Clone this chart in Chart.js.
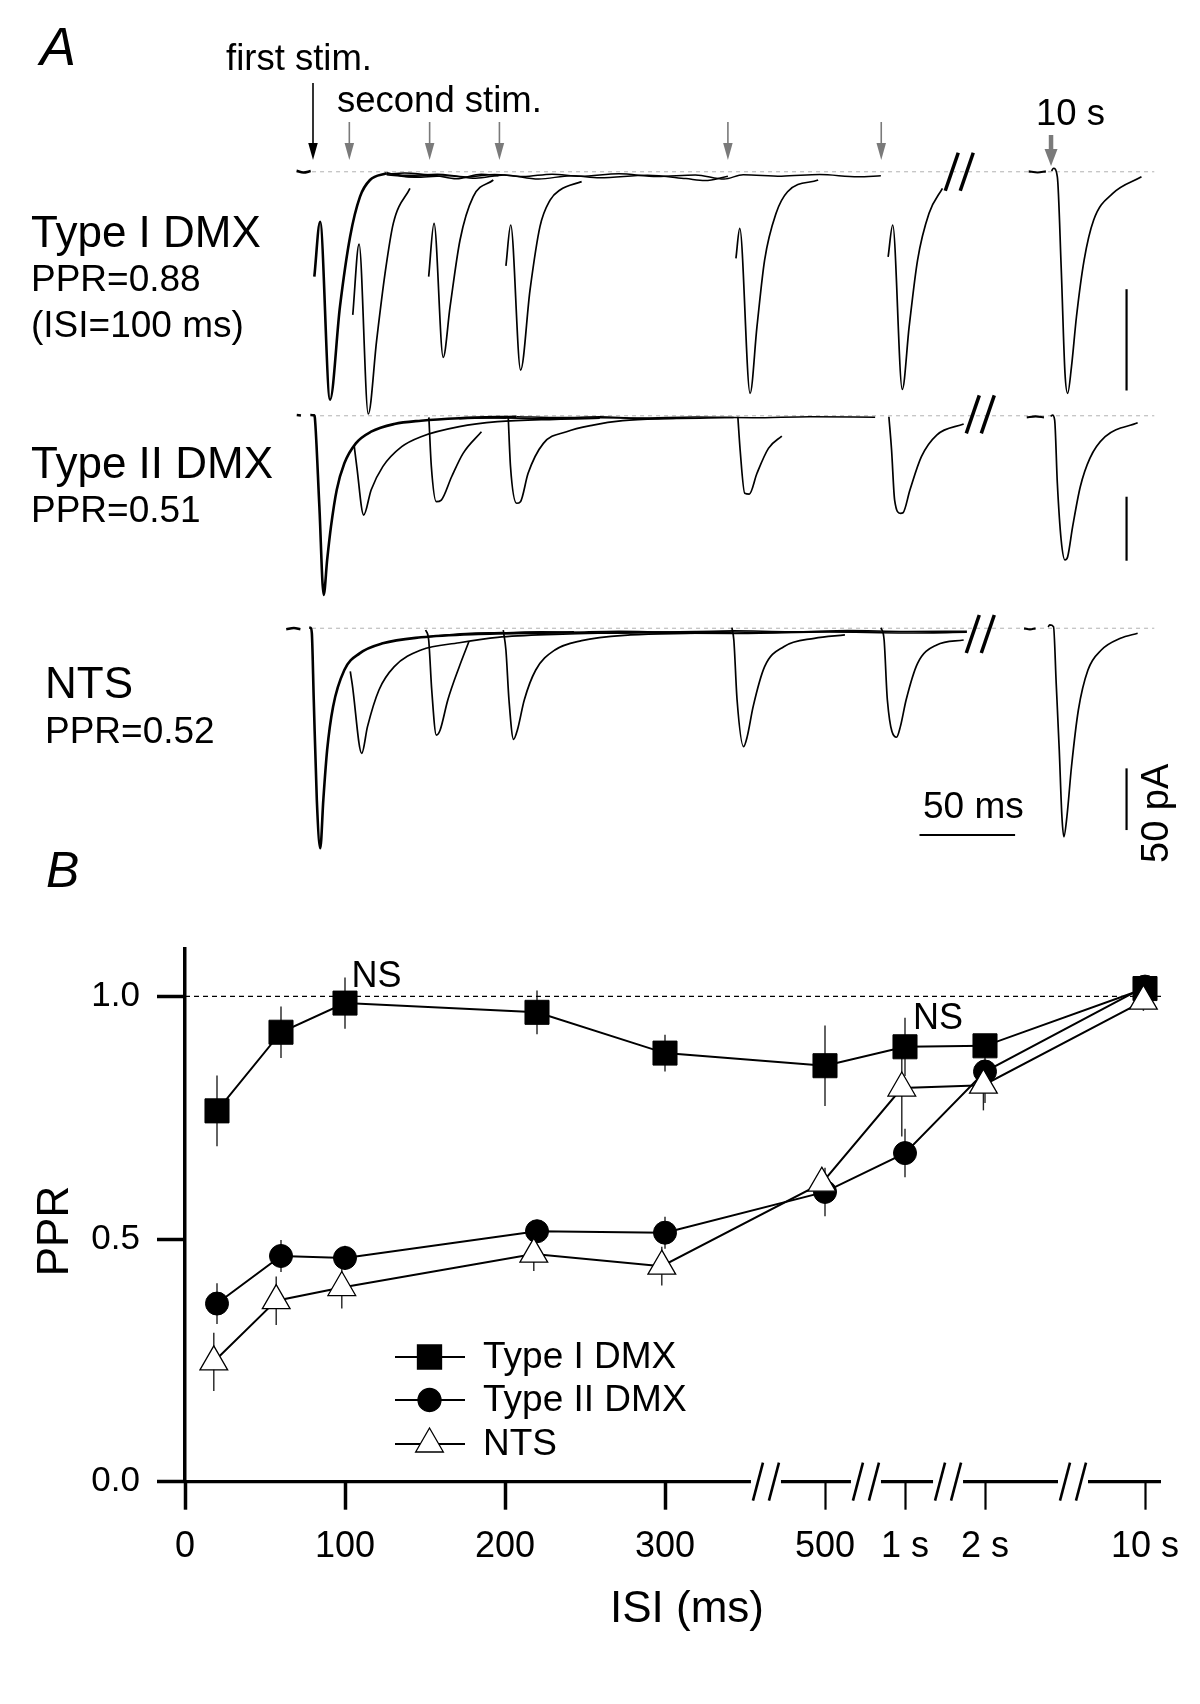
<!DOCTYPE html>
<html lang="en">
<head>
<meta charset="utf-8" />
<title>Paired-pulse ratio</title>
<style>
  html, body { margin: 0; padding: 0; background: #fff; }
  body { width: 1200px; height: 1704px; position: relative; overflow: hidden; }
  canvas { position: absolute; left: 0; }
  #tracesCanvas { top: 0; }
  #pprCanvas { top: 840px; }
</style>
</head>
<body>
<canvas id="tracesCanvas" width="1200" height="880"></canvas>
<canvas id="pprCanvas" width="1200" height="864"></canvas>
<script src="https://cdn.jsdelivr.net/npm/chart.js@4.4.1/dist/chart.umd.min.js"></script>
<script>
// ---------- panel B data ----------
// broken x axis: 0-300 ms linear, then 500 ms, 1 s, 2 s, 10 s
const isiTickPos = [0, 100, 200, 300, 400, 450, 500, 600];
const isiTickLabels = ['0', '100', '200', '300', '500', '1 s', '2 s', '10 s'];
const isiPos = [20, 60, 100, 220, 300, 400, 450, 500, 600];
const isiPosNts = [18, 57, 98, 218, 298, 398, 448, 499, 599];
const pprType1 = [0.764, 0.926, 0.986, 0.967, 0.883, 0.857, 0.896, 0.898, 1.016];
const semType1 = [0.073, 0.053, 0.053, 0.045, 0.038, 0.083, 0.06, 0.02, 0.015];
const pprType2 = [0.367, 0.465, 0.461, 0.516, 0.513, 0.597, 0.677, 0.845, 1.02];
const semType2 = [0.042, 0.033, 0.025, 0.02, 0.033, 0.05, 0.05, 0.065, 0.015];
const pprNts = [0.247, 0.373, 0.400, 0.469, 0.444, 0.615, 0.811, 0.817, 0.99];
const semNts = [0.06, 0.05, 0.043, 0.035, 0.04, 0.03, 0.1, 0.052, 0.02];
const yTicks = [0, 0.5, 1.0];
const axisBreaksB = [363.1, 425.6, 476.9, 555];

// ---------- panel A data (time in ms from first stim, current in pA) ----------
const stimSecond = [19, 61, 97.5, 217, 297.2];
const stimTenSec = 386;   // 10 s trace is drawn after the break

// Type I DMX
const dmx1Pre = [[-8.6, 0.4], [-5, -0.4], [-1.2, 0.3]];
const dmx1First = [[0.7, -51.8], [3.7, -24.7], [8.9, -112.5], [14.1, -66.6], [19.4, -32.1], [24.6, -12.3], [29.8, -4.1], [38.5, -0.8]];
const dmx1Base = [
  [[38.5, -0.8], [50, -1.8], [65, -1.2], [80, -2.6], [95, -1.4], [110, -2.4], [125, -1.2], [140, -2.2], [160, -1.0], [180, -2.4], [200, -1.6], [215, -3.6], [225, -1.5], [245, -2.2], [265, -1.4], [285, -2.5], [297, -2]],
  [[38.5, -1.5], [55, -2.8], [70, -2.0], [85, -3.2], [100, -1.6], [118, -3.6], [135, -2.0], [150, -3.0], [175, -1.8], [195, -3.4], [205, -4.4], [217, -2.2]],
  [[38.5, -0.5], [50, -2.5], [62, -1.8], [75, -3.5], [88, -1.2], [97, -2]],
  [[38.5, -1.2], [48, -0.6], [60, -1.5]]
];
const dmx1Second = [
  [[20.8, -70.7], [24.1, -35.7], [28.9, -119.6], [33.3, -83.1], [37.7, -50.1], [42.0, -25.5], [50.7, -8.2]],
  [[60.5, -51.8], [63.3, -25.5], [68.1, -91.6], [71.7, -66.6], [76.9, -33.7], [83.8, -12.3], [94.3, -4.1]],
  [[100.9, -46.5], [103.4, -26.3], [108.6, -97.9], [113.5, -58.4], [118.7, -27.1], [124.0, -14], [129.2, -9], [140.5, -4.9]],
  [[221.2, -42.8], [223.2, -28], [228.6, -109.4], [232.2, -76.5], [236.2, -43.6], [242.2, -20.5], [248.2, -9.9], [264.2, -4.1]],
  [[300.8, -42], [303.2, -26.3], [308.2, -107.4], [311.8, -76.5], [316.2, -43.6], [322.2, -20.5], [329.2, -8.2]]
];
const dmx1TenPre = [[374.3, 0.2], [379, -0.4], [383.3, 0.2]];
const dmx1Ten = [[386.3, 0.4], [387.3, 1.7], [389.3, -2.5], [391.3, -46.9], [393.3, -99.5], [394.7, -109.4], [396.7, -96.2], [399.3, -71.6], [403.3, -43.6], [408.3, -23.8], [418.3, -10.7], [433.3, -2.5]];

// Type II DMX
const dmx2Pre = [[-8.5, 0.6], [-6.3, 0.2]];
const dmx2First = [[-1.4, 0.6], [0.6, 0.3], [1.0, -2], [3.3, -70], [5.6, -140], [7.4, -112.7], [9.4, -86.7], [12.4, -58], [16.4, -37.2], [22.4, -21.6], [30.4, -12.5], [42.5, -6.5], [56.5, -3.9], [76.5, -2], [106.5, -0.8]];
const dmx2Base = [
  [[106.5, -0.8], [130, -1.5], [150, -0.9], [170, -1.8], [200, -1.0], [230, -1.6], [260, -0.8], [294, -1.2]],
  [[76.5, -2], [95, -1.6], [120, -2.4], [150, -1.6], [180, -2.2], [220, -1.4]],
  [[76.5, -2.4], [90, -1.4], [101, -1.8]]
];
const dmx2Second = [
  [[21.5, -23], [22.9, -39.8], [26.5, -77.6], [30.4, -58], [36.5, -39.8], [46.4, -24.2], [56.5, -16.4], [76.5, -8.6], [96.5, -4.7], [126.6, -2.8], [150, -2]],
  [[60.6, -1.3], [61.9, -39.8], [64.5, -67.2], [67.1, -65.9], [72.5, -47.7], [78.5, -29.4], [88.1, -12.5]],
  [[102.1, -0.8], [103.3, -39.8], [106.5, -68.4], [108.5, -67.2], [112.5, -45], [120.5, -21.6], [132.6, -12.5], [146.5, -7.3], [162, -3.9], [190, -2]],
  [[222.2, -0.8], [223.4, -26.8], [225.8, -60.6], [228.2, -61.2], [232.2, -45], [238.2, -25.5], [245.2, -15.9]],
  [[301.2, -0.8], [302.6, -26.8], [304.2, -65.9], [307.2, -76.3], [308.6, -75.8], [312.2, -58], [318.2, -32], [326.2, -15.1], [340.3, -6.5]]
];
const dmx2TenPre = [[373.3, -1.3], [378, -0.6], [382.3, -1.3]];
const dmx2Ten = [[385.8, -0.5], [386.8, 0.5], [387.9, -3.4], [389.3, -52.8], [391.3, -97.1], [393.3, -112.7], [394.7, -110.2], [397.3, -86.7], [401.3, -55.5], [406.3, -33.3], [414.3, -16.4], [431.3, -5.5]];

// NTS
const ntsPre = [[-14, -0.8], [-10, 0.2], [-6.6, -0.8]];
const ntsFirst = [[-2, 0.5], [-1.2, 0.5], [-0.6, -4], [0.4, -58.1], [2.0, -139.1], [3.8, -178.3], [5.4, -139.1], [7.4, -98.6], [10.5, -63.5], [16.4, -33.8], [24.4, -20.3], [36.5, -12.2], [56.5, -7.3], [86.5, -4.6], [136.5, -3.2]];
const ntsBase = [
  [[136.5, -3.2], [160, -2.4], [190, -3.2], [220, -2.0], [250, -2.8], [280, -1.8], [310, -2.6], [342, -2.4]],
  [[100, -4.2], [130, -3.4], [160, -3.8], [200, -2.6], [240, -3.4], [270, -2.6], [297, -3]],
  [[86.5, -4.6], [120, -2.8], [150, -4], [180, -3], [219, -3.6]],
  [[56.5, -7.3], [80, -4.2], [99, -3.5]]
];
const ntsSecond = [
  [[19.5, -35], [20.5, -45], [25.5, -101.3], [28.5, -79.7], [34.5, -50], [42.5, -31.1], [56.5, -17.6], [76.5, -11.7], [96.5, -7.3], [126.6, -4.9], [170, -3.6], [220, -4.2], [270, -3], [310, -3.8], [342, -3.2]],
  [[58.9, -1.4], [60.5, -9.5], [62.1, -50], [64.5, -86.5], [66.5, -82.4], [70.5, -58.1], [76.5, -31.1], [81.5, -10.9]],
  [[99.5, -1.4], [100.9, -17.6], [102.5, -58.1], [104.9, -90], [106.9, -82.4], [110.5, -58.1], [116.5, -33.8], [126.5, -17.6], [140.5, -10], [166, -5.4], [200, -4]],
  [[219.1, 0.5], [220.1, -9.5], [221.8, -58.1], [225.2, -95.9], [227.1, -87.8], [230.2, -63.5], [236.2, -31.1], [246.2, -14.9], [262.2, -8.1], [278.2, -5.4]],
  [[297.1, 0.5], [298.7, -9.5], [300.4, -58.1], [305.2, -88.3], [307.2, -79.7], [310.2, -58.1], [316.2, -28.4], [326.2, -13.5], [340.3, -9.5]]
];
const ntsTenPre = [[371.9, 0], [375, -0.8], [377.9, 0]];
const ntsTen = [[384.5, 1], [385.3, 2.7], [387.3, 1.3], [388.7, -44.6], [390.3, -98.6], [391.7, -152.7], [392.7, -168.9], [394.3, -152.7], [396.7, -112.2], [400.3, -66.2], [405.3, -33.8], [412.3, -17.6], [422.3, -8.1], [431.3, -4]];

// scale bars (50 ms, 50 pA) and axis breaks in data units
const scaleBarT = 425.5;
const scaleBarTop = [-58, -63.3, -113.5];
const timeBar = [317.2, 367.2];
const timeBarI = -167.5;
const breakA = [[338, 0], [349, 1], [349, -4.6]];

// ---------- layout ----------
const FONT = '"Liberation Sans", Arial, sans-serif';
Chart.defaults.font.family = FONT;
Chart.defaults.color = '#000';

const H_A = 880;
const rowBase = [171.7, 415.7, 628.3];   // baseline pixel of each row
const rowGain = [2.026, 1.28, 1.234];    // pixels per pA in each row
const stim0Px = 313, msPx = 1.912;
const rowAxes = ['y1', 'y2', 'y3'];

function xy(arr) { return arr.map(p => ({ x: p[0], y: p[1] })); }

function traceSet(points, axis, width) {
  return {
    data: xy(points), yAxisID: axis, borderColor: '#000', borderWidth: width,
    pointRadius: 0, cubicInterpolationMode: 'monotone', fill: false
  };
}

function line(ctx, x1, y1, x2, y2) {
  ctx.beginPath(); ctx.moveTo(x1, y1); ctx.lineTo(x2, y2); ctx.stroke();
}

function drawArrow(ctx, x, yTop, yTip, color, shaftW, headW, headH) {
  ctx.strokeStyle = color; ctx.fillStyle = color; ctx.lineWidth = shaftW;
  line(ctx, x, yTop, x, yTip - headH + 1);
  ctx.beginPath();
  ctx.moveTo(x - headW / 2, yTip - headH);
  ctx.lineTo(x + headW / 2, yTip - headH);
  ctx.lineTo(x, yTip);
  ctx.closePath(); ctx.fill();
}

function drawBreak(ctx, cx, cy, h, dx, gap, lw) {
  ctx.strokeStyle = '#000'; ctx.lineWidth = lw; ctx.lineCap = 'butt';
  [-1, 1].forEach(k => {
    const ox = cx + k * gap / 2;
    line(ctx, ox - dx / 2, cy + h / 2, ox + dx / 2, cy - h / 2);
  });
}

function text(ctx, str, x, y, size, style, align) {
  ctx.font = (style || '') + ' ' + size + 'px ' + FONT;
  ctx.textAlign = align || 'left';
  ctx.textBaseline = 'alphabetic';
  ctx.fillStyle = '#000';
  ctx.fillText(str, x, y);
}

// ---------- panel A ----------
const rowsA = [
  { pre: dmx1Pre, first: dmx1First, base: dmx1Base, second: dmx1Second, tenPre: dmx1TenPre, ten: dmx1Ten },
  { pre: dmx2Pre, first: dmx2First, base: dmx2Base, second: dmx2Second, tenPre: dmx2TenPre, ten: dmx2Ten },
  { pre: ntsPre, first: ntsFirst, base: ntsBase, second: ntsSecond, tenPre: ntsTenPre, ten: ntsTen }
];

const datasetsA = [];
rowsA.forEach((r, i) => {
  const ax = rowAxes[i];
  datasetsA.push({
    data: xy([[-0.5, 0], [440, 0]]), yAxisID: ax, borderColor: '#c4c4c4',
    borderWidth: 1.3, borderDash: [4, 4], pointRadius: 0, order: 5
  });
  datasetsA.push(traceSet(r.pre, ax, 2.6));
  datasetsA.push(traceSet(r.first, ax, 2.6));
  r.base.forEach(b => datasetsA.push(traceSet(b, ax, 1.5)));
  r.second.forEach(s => datasetsA.push(traceSet(s, ax, 1.7)));
  datasetsA.push(traceSet(r.tenPre, ax, 2.2));
  datasetsA.push(traceSet(r.ten, ax, 1.7));
});

const yScalesA = {};
rowAxes.forEach((id, i) => {
  yScalesA[id] = {
    type: 'linear', display: false,
    min: (rowBase[i] - H_A) / rowGain[i],
    max: rowBase[i] / rowGain[i]
  };
});

const tracesDecor = {
  id: 'tracesDecor',
  afterDatasetsDraw(chart) {
    const ctx = chart.ctx;
    const xs = chart.scales.x;
    const ys = rowAxes.map(id => chart.scales[id]);
    ctx.save();

    // stimulus arrows
    drawArrow(ctx, xs.getPixelForValue(0), 83, 160, '#000', 1.6, 9.5, 17);
    stimSecond.forEach(t => drawArrow(ctx, xs.getPixelForValue(t), 122, 160, '#7a7a7a', 1.6, 9.5, 17));
    drawArrow(ctx, xs.getPixelForValue(stimTenSec), 135, 166, '#7a7a7a', 4.5, 13, 17);

    // breaks before the 10 s traces
    breakA.forEach((b, i) => drawBreak(ctx, xs.getPixelForValue(b[0]), ys[i].getPixelForValue(b[1]), 38, 13, 15, 3.5));

    // scale bars
    ctx.strokeStyle = '#000'; ctx.lineWidth = 2.2;
    const bx = xs.getPixelForValue(scaleBarT);
    ys.forEach((s, i) => line(ctx, bx, s.getPixelForValue(scaleBarTop[i]), bx, s.getPixelForValue(scaleBarTop[i] - 50)));
    const ty = ys[2].getPixelForValue(timeBarI);
    line(ctx, xs.getPixelForValue(timeBar[0]), ty, xs.getPixelForValue(timeBar[1]), ty);

    // labels
    text(ctx, 'A', 40, 65, 54, 'italic');
    text(ctx, 'first stim.', 226, 70, 36.5);
    text(ctx, 'second stim.', 337, 112, 36.5);
    text(ctx, '10 s', 1036, 125, 36.5);
    text(ctx, 'Type I DMX', 31, 247, 44);
    text(ctx, 'PPR=0.88', 31, 291, 37);
    text(ctx, '(ISI=100 ms)', 31, 337, 37);
    text(ctx, 'Type II DMX', 31, 478, 44);
    text(ctx, 'PPR=0.51', 31, 522, 37);
    text(ctx, 'NTS', 45, 698, 44);
    text(ctx, 'PPR=0.52', 45, 743, 37);
    text(ctx, '50 ms', 923, 818, 37);
    ctx.save();
    ctx.translate(1168, 863);
    ctx.rotate(-Math.PI / 2);
    text(ctx, '50 pA', 0, 0, 38);
    ctx.restore();

    ctx.restore();
  }
};

new Chart(document.getElementById('tracesCanvas'), {
  type: 'line',
  data: { datasets: datasetsA },
  options: {
    responsive: false,
    animation: false,
    events: [],
    layout: { padding: 0 },
    plugins: { legend: { display: false }, tooltip: { enabled: false } },
    scales: Object.assign({
      x: { type: 'linear', display: false, min: -stim0Px / msPx, max: (1200 - stim0Px) / msPx }
    }, yScalesA)
  },
  plugins: [tracesDecor]
});

// ---------- panel B ----------
const topB = 840;

function drawMarker(ctx, style, x, y, r, fill) {
  ctx.beginPath();
  if (style === 'rect') {
    const s = Math.SQRT1_2 * r;
    ctx.rect(x - s, y - s, 2 * s, 2 * s);
  } else if (style === 'circle') {
    ctx.arc(x, y, r, 0, Math.PI * 2);
  } else {
    for (let k = 0; k < 3; k++) {
      const a = k * 2 * Math.PI / 3;
      const px = x + Math.sin(a) * r, py = y - Math.cos(a) * r;
      if (k === 0) ctx.moveTo(px, py); else ctx.lineTo(px, py);
    }
    ctx.closePath();
  }
  ctx.fillStyle = fill; ctx.fill();
  ctx.strokeStyle = '#000'; ctx.lineWidth = 1.3; ctx.stroke();
}

const pprDecor = {
  id: 'pprDecor',
  beforeDatasetsDraw(chart) {
    const { ctx, scales: { x, y } } = chart;
    ctx.save();
    // x axis line with breaks
    const y0 = y.getPixelForValue(0);
    const gaps = axisBreaksB.map(v => x.getPixelForValue(v));
    ctx.strokeStyle = '#000'; ctx.lineWidth = 3.3;
    let start = x.getPixelForValue(0) - 2;
    gaps.forEach(g => { line(ctx, start, y0, g - 15, y0); start = g + 15; });
    line(ctx, start, y0, x.getPixelForValue(610), y0);
    gaps.forEach(g => drawBreak(ctx, g, y0, 38, 10, 16, 2.6));

    // error bars
    ctx.strokeStyle = '#222'; ctx.lineWidth = 1.4;
    chart.data.datasets.forEach(ds => {
      if (!ds.errors) return;
      ds.data.forEach((p, i) => {
        const px = x.getPixelForValue(p.x);
        line(ctx, px, y.getPixelForValue(p.y + ds.errors[i]), px, y.getPixelForValue(p.y - ds.errors[i]));
      });
    });
    ctx.restore();
  },
  afterDraw(chart) {
    const { ctx, scales: { x, y } } = chart;
    ctx.save();
    // NS marks
    text(ctx, 'NS', x.getPixelForValue(104), y.getPixelForValue(1.02), 36);
    text(ctx, 'NS', x.getPixelForValue(455), y.getPixelForValue(0.932), 36);

    // legend
    const rows = [1357, 1400, 1444];
    chart.data.datasets.filter(d => d.errors).forEach((ds, i) => {
      const ly = rows[i] - topB;
      ctx.strokeStyle = '#000'; ctx.lineWidth = 2;
      line(ctx, 395, ly, 465, ly);
      drawMarker(ctx, ds.pointStyle, 429.5, ly, ds.pointRadius, ds.pointBackgroundColor);
      ctx.font = '37px ' + FONT;
      ctx.fillStyle = '#000'; ctx.textAlign = 'left'; ctx.textBaseline = 'middle';
      ctx.fillText(ds.label, 483, ly + 1);
    });

    // titles
    text(ctx, 'B', 46, 887 - topB, 50, 'italic');
    text(ctx, 'ISI (ms)', 687, 1622 - topB, 44, '', 'center');
    ctx.save();
    ctx.translate(68, 1231 - topB);
    ctx.rotate(-Math.PI / 2);
    text(ctx, 'PPR', 0, 0, 44, '', 'center');
    ctx.restore();
    ctx.restore();
  }
};

new Chart(document.getElementById('pprCanvas'), {
  type: 'line',
  data: {
    datasets: [
      {
        label: 'Type I DMX', data: xy(isiPos.map((v, i) => [v, pprType1[i]])), errors: semType1,
        borderColor: '#000', borderWidth: 2, pointStyle: 'rect', pointRadius: 17,
        pointBackgroundColor: '#000', pointBorderColor: '#000', pointBorderWidth: 1, order: 3
      },
      {
        label: 'Type II DMX', data: xy(isiPos.map((v, i) => [v, pprType2[i]])), errors: semType2,
        borderColor: '#000', borderWidth: 2, pointStyle: 'circle', pointRadius: 11.5,
        pointBackgroundColor: '#000', pointBorderColor: '#000', pointBorderWidth: 1, order: 2
      },
      {
        label: 'NTS', data: xy(isiPosNts.map((v, i) => [v, pprNts[i]])), errors: semNts,
        borderColor: '#000', borderWidth: 2, pointStyle: 'triangle', pointRadius: 16,
        pointBackgroundColor: '#fff', pointBorderColor: '#000', pointBorderWidth: 1.3, order: 1
      },
      {
        label: 'ref', data: xy([[0, 1], [610, 1]]), borderColor: '#000', borderWidth: 1.2,
        borderDash: [5, 4], pointRadius: 0, order: 10
      }
    ]
  },
  options: {
    responsive: false,
    animation: false,
    events: [],
    layout: { padding: { top: 108.4, right: 39, bottom: 0, left: 0 } },
    plugins: { legend: { display: false }, tooltip: { enabled: false } },
    scales: {
      x: {
        type: 'linear', min: 0, max: 610,
        afterBuildTicks: s => { s.ticks = isiTickPos.map(v => ({ value: v })); },
        afterFit: s => { s.height = 222.3; },
        border: { display: false },
        grid: {
          drawOnChartArea: false, drawTicks: true, tickLength: 28, tickColor: '#000',
          tickWidth: c => (c.tick && c.tick.value > 300 ? 2.2 : 3.5)
        },
        ticks: {
          autoSkip: false, maxRotation: 0, minRotation: 0, padding: 16, color: '#000',
          font: { size: 36 }, callback: v => isiTickLabels[isiTickPos.indexOf(v)]
        }
      },
      y: {
        type: 'linear', min: 0, max: 1.0987,
        afterBuildTicks: s => { s.ticks = yTicks.map(v => ({ value: v })); },
        afterFit: s => { s.width = 185; },
        border: { display: true, color: '#000', width: 3.5 },
        grid: { drawOnChartArea: false, drawTicks: true, tickLength: 28, tickColor: '#000', tickWidth: 3.5 },
        ticks: { padding: 17, color: '#000', font: { size: 35 }, callback: v => v.toFixed(1) }
      }
    }
  },
  plugins: [pprDecor]
});
</script>
</body>
</html>
